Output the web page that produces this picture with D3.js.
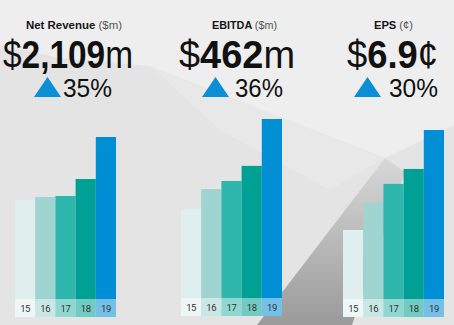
<!DOCTYPE html>
<html>
<head>
<meta charset="utf-8">
<script src="https://cdn.jsdelivr.net/npm/d3@7"></script>
<style>
  body { margin: 0; background: #e6e6e6; }
  svg { display: block; }
</style>
</head>
<body>
<div id="canvas"></div>
<script>
const years = ["15", "16", "17", "18", "19"];
const revenue = [1289, 1328, 1341, 1562, 2109];
const ebitda = [230, 281, 302, 341, 462];
const eps = [2.82, 3.92, 4.70, 5.31, 6.9];

const titles = ["Net Revenue", "EBITDA", "EPS"];
const units = ["($m)", "($m)", "(¢)"];
const prefix = ["$", "$", "$"];
const headline = ["2,109", "462", "6.9"];
const suffix = ["m", "m", "¢"];
const growth = ["35%", "36%", "30%"];

const barColors = ["#deefed", "#9fd4d0", "#2fb6ad", "#00a095", "#008fd5"];
const cellColors = ["#eef7f6", "#c9e8e5", "#8fd8d1", "#72cbc2", "#74c0e9"];

const width = 454;
const height = 325;

const svg = d3.select("#canvas").append("svg")
  .attr("width", width)
  .attr("height", height);

// background shapes
const defs = svg.append("defs");
const grad = defs.append("linearGradient").attr("id", "dark")
  .attr("x1", 0).attr("y1", 0).attr("x2", 0).attr("y2", 1);
grad.append("stop").attr("offset", "0%").attr("stop-color", "#d8d8d8");
grad.append("stop").attr("offset", "100%").attr("stop-color", "#9a9a9a");

const bg = svg.append("g");
bg.append("rect").attr("width", width).attr("height", height).attr("fill", "#e4e4e4");
bg.append("path")
  .attr("d", "M0,0 L454,0 L454,125 L385,158 L150,66 L60,58 L0,45 Z")
  .attr("fill", "#eeeeee");
bg.append("path")
  .attr("d", "M150,66 L385,158 L330,190 L220,130 Z")
  .attr("fill", "#e8e8e8");
bg.append("path")
  .attr("d", "M385,158 L405,172 L352,325 L257,325 Z")
  .attr("fill", "url(#dark)");

const panels = [
  { values: revenue, x0: 15, base: 299, top: 162, cx: [26, 3, 34, 63] },
  { values: ebitda, x0: 181, base: 298, top: 179, cx: [212, 179, 202, 235] },
  { values: eps, x0: 343, base: 299, top: 169, cx: [374, 347, 354, 389] }
];
const headW = [96, 65, 39];
const bigW = [130, 116, 91];
const pctW = [49, 48, 49];

panels.forEach((p, i) => {
  const g = svg.append("g");
  const x = d3.scaleBand().domain(years).range([p.x0, p.x0 + 101]).padding(0);
  const y = d3.scaleLinear()
    .domain([0, d3.max(p.values)])
    .range([p.base, p.base - p.top]);

  g.selectAll("rect.bar")
    .data(p.values)
    .enter()
    .append("rect")
    .attr("class", "bar")
    .attr("x", (d, j) => x(years[j]))
    .attr("width", x.bandwidth())
    .attr("y", (d) => y(d))
    .attr("height", (d) => y(0) - y(d))
    .attr("fill", (d, j) => barColors[j]);

  g.selectAll("rect.cell")
    .data(years)
    .enter()
    .append("rect")
    .attr("class", "cell")
    .attr("x", (d) => x(d))
    .attr("width", x.bandwidth())
    .attr("y", p.base)
    .attr("height", 18)
    .attr("fill", (d, j) => cellColors[j]);

  g.selectAll("text.yr")
    .data(years)
    .enter()
    .append("text")
    .attr("class", "yr")
    .attr("x", (d) => x(d) + x.bandwidth() / 2)
    .attr("y", p.base + 12.5)
    .attr("text-anchor", "middle")
    .attr("font-family", "Roboto, sans-serif")
    .attr("font-size", 9.5)
    .attr("letter-spacing", -0.4)
    .attr("fill", "#333")
    .text((d) => d);

  // header
  const h = g.append("text")
    .attr("x", p.cx[0])
    .attr("y", 29)
    .attr("font-family", "Liberation Sans, Arial, sans-serif")
    .attr("font-size", 10.5)
    .attr("textLength", headW[i])
    .attr("lengthAdjust", "spacingAndGlyphs");
  h.append("tspan").attr("font-weight", "bold").attr("fill", "#151515").text(titles[i] + " ");
  h.append("tspan").attr("fill", "#555").text(units[i]);

  const big = g.append("text")
    .attr("x", p.cx[1])
    .attr("y", 68)
    .attr("font-family", "Liberation Sans, Arial, sans-serif")
    .attr("font-size", 38)
    .attr("fill", "#111")
    .attr("textLength", bigW[i])
    .attr("lengthAdjust", "spacingAndGlyphs");
  big.append("tspan").attr("font-weight", 400).text(prefix[i]);
  big.append("tspan").attr("font-weight", "bold").text(headline[i]);
  big.append("tspan").attr("font-weight", 400).text(suffix[i]);

  const tx = p.cx[2];
  g.append("path")
    .attr("d", `M${tx},97 L${tx + 13.5},77 L${tx + 27},97 Z`)
    .attr("fill", "#0a8fd6");

  g.append("text")
    .attr("x", p.cx[3])
    .attr("y", 97)
    .attr("font-family", "Liberation Sans, Arial, sans-serif")
    .attr("font-weight", 400)
    .attr("font-size", 26)
    .attr("fill", "#111")
    .attr("textLength", pctW[i])
    .attr("lengthAdjust", "spacingAndGlyphs")
    .text(growth[i]);
});
</script>
</body>
</html>
